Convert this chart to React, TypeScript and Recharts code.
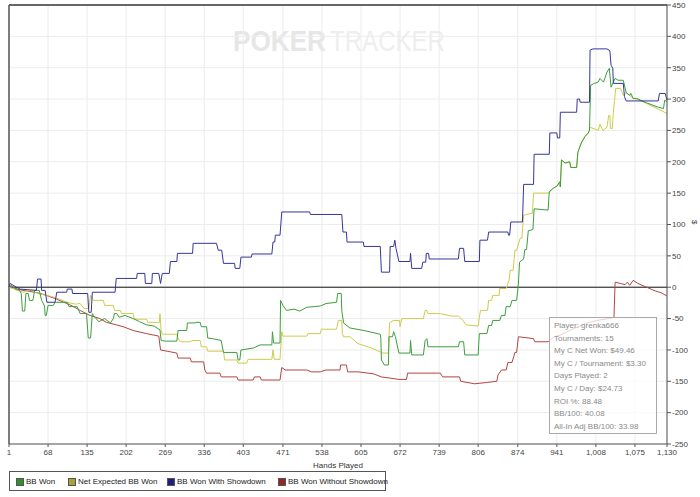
import * as React from "react";
import {
  LineChart,
  Line,
  XAxis,
  YAxis,
  CartesianGrid,
  ReferenceLine,
} from "recharts";

// hands played axis + $ axis
const handTicks = [1, 68, 135, 202, 269, 336, 403, 471, 538, 605, 672, 739, 806, 874, 941, 1008, 1075, 1130];
const dollarTicks = [-250, -200, -150, -100, -50, 0, 50, 100, 150, 200, 250, 300, 350, 400, 450];

// [hand, value]
const bbWon: [number, number][] = [
  [1, 0], [5, 3], [10, -2], [19, -5], [22, -10], [24, -38], [28, -38], [30, -10], [34, -10], [36, -21], [42, -21],
  [45, -5], [53, -5], [57, -21], [62, -30], [63, -45], [65, -45], [68, -29], [77, -29], [80, -24], [101, -24],
  [104, -31], [118, -31], [123, -42], [134, -42], [137, -81], [141, -81], [144, -42], [146, -45], [155, -55],
  [165, -50], [175, -57], [180, -50], [182, -42], [186, -42], [190, -48], [200, -45], [214, -50], [225, -55],
  [237, -60], [250, -62], [260, -68], [262, -85], [270, -86], [289, -86], [291, -69], [306, -69], [307, -57],
  [320, -57], [322, -56], [329, -56], [331, -63], [340, -63], [342, -81], [350, -82], [365, -85], [369, -104],
  [392, -104], [394, -116], [397, -116], [399, -100], [420, -97], [432, -92], [452, -92], [453, -71], [455, -89],
  [466, -89], [467, -21], [471, -29], [477, -37], [490, -35], [500, -38], [512, -32], [535, -30], [545, -26],
  [563, -24], [565, -10], [571, -10], [572, -37], [575, -57], [586, -65], [610, -69], [638, -75], [639, -82],
  [640, -116], [645, -124], [652, -124], [653, -79], [659, -79], [661, -71], [664, -79], [670, -105], [689, -105],
  [690, -85], [692, -108], [712, -108], [715, -85], [718, -82], [720, -95], [772, -95], [774, -87], [781, -87],
  [783, -108], [806, -108], [808, -74], [821, -74], [824, -61], [829, -61], [831, -53], [843, -53], [846, -45],
  [852, -45], [854, -31], [861, -31], [864, -21], [872, -21], [875, 5], [877, 40], [884, 45], [886, 60], [889, 60],
  [892, 90], [900, 92], [902, 125], [926, 123], [928, 152], [935, 158], [941, 161], [946, 168], [947, 160],
  [949, 203], [955, 198], [963, 200], [965, 191], [975, 191], [977, 215], [983, 230], [989, 240], [995, 246],
  [997, 250], [999, 322], [1005, 325], [1012, 327], [1015, 333], [1021, 327], [1027, 343], [1031, 349],
  [1034, 319], [1041, 333], [1046, 330], [1055, 330], [1060, 310], [1066, 306], [1068, 309], [1072, 301],
  [1078, 301], [1095, 294], [1115, 287], [1124, 285], [1126, 298], [1130, 296],
];

const netExpected: [number, number][] = [
  [1, 0], [10, -3], [25, -8], [40, -5], [50, -10], [60, -12], [75, -15], [90, -20], [100, -24], [115, -27],
  [123, -26], [130, -34], [138, -34], [141, -13], [146, -21], [163, -21], [165, -29], [180, -29], [182, -37],
  [192, -37], [194, -42], [214, -42], [216, -51], [237, -51], [239, -56], [259, -56], [260, -42], [262, -69],
  [264, -75], [289, -75], [291, -81], [295, -87], [312, -87], [315, -85], [329, -85], [331, -95], [340, -95],
  [342, -102], [369, -102], [371, -116], [392, -116], [394, -121], [409, -121], [411, -115], [452, -115],
  [454, -100], [456, -115], [466, -115], [469, -71], [471, -78], [512, -78], [514, -74], [535, -74], [537, -67],
  [563, -67], [566, -53], [572, -53], [573, -74], [575, -79], [586, -79], [600, -90], [620, -96], [638, -103],
  [640, -105], [652, -105], [654, -57], [660, -53], [671, -53], [672, -63], [675, -50], [712, -50], [715, -37],
  [718, -37], [720, -42], [741, -42], [760, -46], [772, -46], [780, -53], [785, -60], [806, -62], [808, -48],
  [810, -37], [822, -37], [824, -21], [829, -21], [831, -13], [842, -13], [843, -2], [854, -2], [859, 11],
  [861, 27], [866, 27], [869, 59], [872, 59], [878, 78], [881, 78], [884, 115], [899, 118], [901, 150],
  [926, 150], [928, 152], [935, 158], [941, 161], [946, 168], [947, 160], [949, 203], [955, 198], [963, 200],
  [965, 191], [975, 191], [977, 215], [983, 230], [989, 240], [995, 246], [998, 255], [1012, 250], [1015, 260],
  [1020, 250], [1027, 255], [1030, 274], [1032, 274], [1033, 253], [1036, 253], [1038, 279], [1040, 298],
  [1042, 317], [1050, 317], [1055, 306], [1060, 310], [1066, 306], [1072, 301], [1078, 300], [1095, 293],
  [1115, 284], [1130, 277],
];

const withShowdown: [number, number][] = [
  [1, 0], [3, 6], [10, 2], [20, -3], [48, -5], [50, 13], [56, 13], [57, -5], [63, -5], [66, -24], [80, -24],
  [83, -8], [100, -8], [101, -3], [109, -3], [110, -10], [136, -10], [138, -40], [142, -40], [144, -8], [183, -8],
  [185, 14], [220, 14], [221, 22], [234, 22], [235, 6], [246, 6], [247, 22], [258, 22], [261, 6], [264, 22],
  [276, 22], [278, 41], [289, 41], [290, 54], [316, 54], [317, 70], [357, 70], [360, 59], [366, 59], [369, 38],
  [388, 38], [389, 30], [397, 30], [399, 48], [417, 48], [418, 53], [452, 53], [454, 72], [457, 72], [458, 83],
  [466, 83], [469, 120], [517, 120], [518, 116], [572, 116], [574, 88], [580, 88], [581, 72], [609, 72], [610, 65],
  [638, 65], [640, 24], [654, 24], [655, 65], [661, 65], [663, 75], [665, 62], [670, 41], [689, 41], [690, 54],
  [692, 30], [709, 30], [711, 40], [716, 40], [717, 54], [721, 54], [722, 45], [772, 45], [774, 62], [781, 62],
  [783, 41], [808, 41], [809, 75], [822, 75], [824, 88], [857, 88], [858, 83], [860, 83], [862, 104], [882, 104],
  [884, 164], [901, 164], [902, 212], [928, 212], [929, 246], [941, 246], [942, 238], [946, 238], [947, 279],
  [975, 279], [976, 300], [980, 300], [981, 295], [997, 295], [998, 378], [1003, 380], [1027, 380], [1032, 377],
  [1034, 354], [1037, 349], [1038, 325], [1055, 325], [1057, 304], [1060, 297], [1115, 297], [1117, 309],
  [1127, 309], [1130, 298],
];

const withoutShowdown: [number, number][] = [
  [1, 0], [5, 2], [15, -3], [30, -6], [45, -8], [55, -10], [65, -13], [80, -18], [100, -26], [110, -30],
  [123, -37], [140, -45], [157, -50], [168, -56], [185, -60], [197, -63], [214, -69], [237, -74], [258, -78],
  [261, -100], [289, -105], [291, -113], [312, -113], [314, -119], [335, -119], [337, -132], [340, -137],
  [363, -137], [365, -143], [392, -143], [394, -148], [420, -148], [422, -143], [432, -143], [434, -148],
  [466, -148], [469, -128], [475, -132], [512, -132], [520, -135], [535, -135], [545, -132], [569, -132],
  [570, -124], [580, -124], [582, -135], [600, -135], [626, -138], [640, -143], [655, -145], [670, -147],
  [683, -147], [685, -137], [741, -137], [745, -143], [774, -143], [776, -150], [800, -154], [820, -152],
  [838, -150], [840, -140], [846, -132], [854, -132], [857, -120], [864, -120], [867, -111], [869, -104],
  [872, -104], [875, -79], [901, -82], [903, -87], [926, -87], [935, -80], [950, -75], [970, -66], [990, -58],
  [1010, -53], [1030, -50], [1039, -48], [1041, 8], [1050, 6], [1058, 4], [1062, 8], [1066, 3], [1072, 11],
  [1080, 6], [1095, 0], [1110, -6], [1120, -9], [1130, -14],
];

const statsLines = [
  "Player: grenka666",
  "Tournaments: 15",
  "My C Net Won: $49.46",
  "My C / Tournament: $3.30",
  "Days Played: 2",
  "My C / Day: $24.73",
  "ROI %: 88.48",
  "BB/100: 40.08",
  "All-In Adj BB/100: 33.98",
];

const legendItems = [
  { name: "BB Won", color: "#2f8f2f" },
  { name: "Net Expected BB Won", color: "#a5a33a" },
  { name: "BB Won With Showdown", color: "#1f1f80" },
  { name: "BB Won Without Showdown", color: "#962626" },
];

const toPts = (arr: [number, number][]) => arr.map(([h, v]) => ({ h, v }));
const fmt = (n: number) => n.toLocaleString("en-US");
const FONT = "'Liberation Sans', Arial, sans-serif";

export default function App() {
  return (
    <div style={{ position: "absolute", left: 0, top: 0, width: 700, height: 497, background: "#fff", fontFamily: FONT }}>
      {/* watermark */}
      <svg width={700} height={60} style={{ position: "absolute", left: 0, top: 0 }}>
        <text x={233} y={51} fontSize={30} fontWeight="bold" fill="#e6e6e6" textLength={93} lengthAdjust="spacingAndGlyphs" fontFamily={FONT}>
          POKER
        </text>
        <text x={330} y={51} fontSize={30} fill="#eeeeee" textLength={115} lengthAdjust="spacingAndGlyphs" fontFamily={FONT}>
          TRACKER
        </text>
      </svg>

      <div style={{ position: "absolute", left: 0, top: 0 }}>
        <LineChart width={700} height={497} margin={{ top: 5, right: 0, left: 9, bottom: 28 }} style={{ fontFamily: FONT }}>
          <CartesianGrid stroke="#ececec" strokeWidth={1} />
          <XAxis
            dataKey="h"
            type="number"
            domain={[1, 1130]}
            ticks={handTicks}
            tickFormatter={fmt}
            allowDuplicatedCategory={false}
            height={25}
            tickSize={3}
            tick={{ fontSize: 8, fill: "#444" }}
            axisLine={{ stroke: "#555" }}
            tickLine={{ stroke: "#555" }}
            interval={0}
            label={{ value: "Hands Played", position: "insideBottom", offset: 1, fontSize: 8, fill: "#333" }}
          />
          <YAxis
            orientation="right"
            type="number"
            domain={[-250, 450]}
            ticks={dollarTicks}
            width={33}
            tickSize={4}
            tickMargin={1}
            interval={0}
            tick={{ fontSize: 8, fill: "#444" }}
            axisLine={{ stroke: "#555" }}
            tickLine={{ stroke: "#555" }}
            label={{ value: "$", angle: 90, position: "insideRight", offset: 5, fontSize: 8, fill: "#444" }}
          />
          <ReferenceLine y={450} stroke="#666" strokeWidth={2} />
          <ReferenceLine x={1} stroke="#555" strokeWidth={1.5} />
          <ReferenceLine y={0} stroke="#111" strokeWidth={1} />
          <Line data={toPts(withoutShowdown)} dataKey="v" stroke="#b44444" strokeWidth={1} dot={false} isAnimationActive={false} />
          <Line data={toPts(netExpected)} dataKey="v" stroke="#cfcb4c" strokeWidth={1} dot={false} isAnimationActive={false} />
          <Line data={toPts(bbWon)} dataKey="v" stroke="#3c9e3c" strokeWidth={1} dot={false} isAnimationActive={false} />
          <Line data={toPts(withShowdown)} dataKey="v" stroke="#35359a" strokeWidth={1} dot={false} isAnimationActive={false} />
        </LineChart>
      </div>

      {/* stats box */}
      <div
        style={{
          position: "absolute",
          left: 549,
          top: 317,
          width: 108,
          height: 117,
          border: "1px solid #aaa",
          background: "rgba(255,255,255,0.75)",
          fontSize: 8,
          color: "#8a8a8a",
          boxSizing: "border-box",
        }}
      >
        {statsLines.map((s, i) => (
          <div key={i} style={{ position: "absolute", left: 4, top: 3 + i * 12.6, whiteSpace: "nowrap", lineHeight: "10px" }}>
            {s}
          </div>
        ))}
      </div>

      {/* legend */}
      <div
        style={{
          position: "absolute",
          left: 9,
          top: 471,
          width: 377,
          height: 20,
          border: "1px solid #555",
          boxSizing: "border-box",
          fontSize: 8,
          color: "#222",
        }}
      >
        {legendItems.map((it, i) => {
          const lefts = [6, 58, 157, 268];
          return (
            <div key={it.name} style={{ position: "absolute", left: lefts[i], top: 5, display: "flex", alignItems: "center", whiteSpace: "nowrap" }}>
              <span style={{ display: "inline-block", width: 6, height: 6, background: it.color, border: "1px solid #555", marginRight: 2 }} />
              <span style={{ lineHeight: "9px" }}>{it.name}</span>
            </div>
          );
        })}
      </div>
    </div>
  );
}
